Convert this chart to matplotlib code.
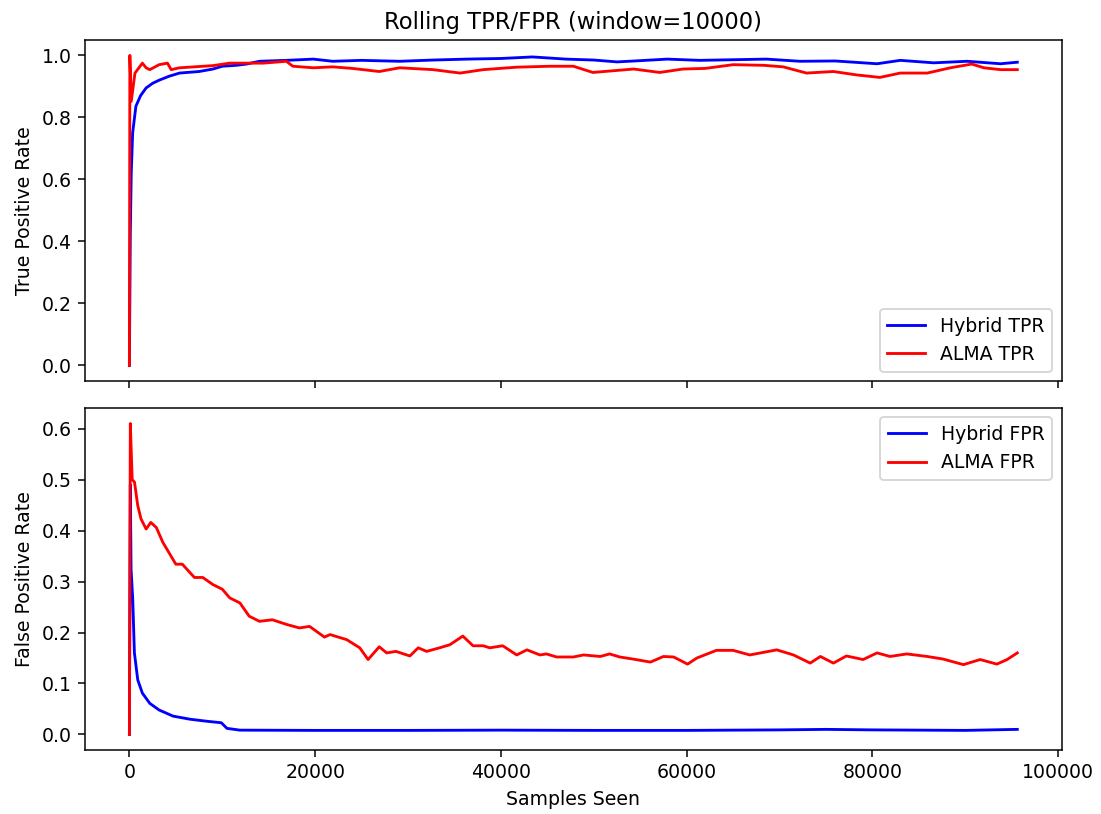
import matplotlib
matplotlib.use("Agg")
import matplotlib.pyplot as plt

# samples seen / rolling rates
hyb_tpr_x = [0, 100, 200, 350, 700, 1200, 1800, 2500, 3200, 4300, 5400, 7500, 9000, 10000,
             11500, 12600, 14000, 16900, 19800, 21900, 25000, 29100, 32700, 36300, 40000,
             43400, 47000, 50000, 52500, 55000, 57900, 61400, 65000, 68600, 72200, 76000,
             80500, 83000, 86600, 90200, 93800, 95600]
hyb_tpr_y = [0.0, 0.43, 0.62, 0.75, 0.836, 0.87, 0.895, 0.91, 0.92, 0.933, 0.943, 0.948, 0.956, 0.965,
             0.968, 0.972, 0.981, 0.984, 0.988, 0.981, 0.984, 0.981, 0.985, 0.988, 0.99,
             0.995, 0.988, 0.985, 0.979, 0.983, 0.988, 0.984, 0.986, 0.988, 0.981, 0.982,
             0.973, 0.984, 0.976, 0.981, 0.973, 0.978]

alma_tpr_x = [0, 50, 200, 600, 1400, 1800, 2200, 3200, 4100, 4500, 5400, 9000, 10800, 14400,
              16900, 17600, 19800, 21900, 24000, 26900, 29100, 32700, 35600, 38100, 41700,
              45300, 47800, 49900, 54300, 57100, 59600, 62000, 65000, 68300, 70400, 72900,
              75800, 78300, 80800, 83000, 85900, 88400, 90700, 92000, 93800, 95600]
alma_tpr_y = [0.0, 1.0, 0.852, 0.943, 0.975, 0.96, 0.954, 0.97, 0.975, 0.954, 0.96, 0.967, 0.975, 0.975,
              0.981, 0.965, 0.96, 0.963, 0.958, 0.948, 0.96, 0.954, 0.943, 0.954, 0.962,
              0.965, 0.965, 0.945, 0.956, 0.945, 0.956, 0.958, 0.97, 0.968, 0.963, 0.943,
              0.948, 0.937, 0.929, 0.943, 0.943, 0.96, 0.972, 0.96, 0.954, 0.954]

hyb_fpr_x = [0, 100, 180, 360, 540, 900, 1400, 2200, 3200, 4700, 6500, 8300, 9900, 10500,
             11900, 20000, 30000, 40000, 50000, 60000, 70000, 75000, 80000, 90000, 95600]
hyb_fpr_y = [0.0, 0.49, 0.324, 0.265, 0.16, 0.107, 0.081, 0.061, 0.048, 0.036, 0.030, 0.026, 0.023, 0.012,
             0.0085, 0.008, 0.008, 0.0085, 0.008, 0.008, 0.009, 0.01, 0.009, 0.008, 0.01]

alma_fpr_x = [0, 100, 300, 550, 900, 1250, 1800, 2300, 2900, 3600, 5000, 5700, 7000, 7900, 9000,
              10000, 10800, 11900, 12900, 14000, 15400, 16900, 18300, 19400, 21000, 21600,
              23400, 24800, 25700, 26900, 27700, 28700, 30200, 31100, 32000, 33400, 34500,
              35900, 37000, 38100, 38800, 40200, 41700, 42800, 44200, 44900, 46000, 47800,
              48900, 50700, 51700, 52800, 54200, 56100, 57500, 58600, 60100, 61100, 63200,
              65000, 66800, 69700, 71500, 73300, 74400, 75800, 77200, 79000, 80500, 81900,
              83700, 85900, 87600, 89800, 91600, 93400, 94500, 95600]
alma_fpr_y = [0.0, 0.61, 0.50, 0.495, 0.449, 0.423, 0.403, 0.416, 0.406, 0.377, 0.334, 0.334, 0.308, 0.308, 0.294,
              0.285, 0.268, 0.258, 0.232, 0.222, 0.225, 0.216, 0.209, 0.212, 0.191, 0.196,
              0.186, 0.170, 0.147, 0.172, 0.160, 0.163, 0.154, 0.170, 0.163, 0.170, 0.176,
              0.193, 0.174, 0.174, 0.170, 0.174, 0.156, 0.166, 0.156, 0.158, 0.152, 0.152,
              0.156, 0.153, 0.158, 0.152, 0.148, 0.142, 0.153, 0.152, 0.138, 0.150, 0.165,
              0.165, 0.156, 0.166, 0.156, 0.140, 0.153, 0.140, 0.154, 0.147, 0.160, 0.153,
              0.158, 0.153, 0.148, 0.137, 0.147, 0.138, 0.147, 0.160]

fig = plt.figure(figsize=(1101 / 136, 814 / 136), dpi=136)
ax1 = fig.add_axes([0.0772, 0.532, 0.8871, 0.419])
ax2 = fig.add_axes([0.0772, 0.0786, 0.8871, 0.4202], sharex=ax1)

ax1.plot(hyb_tpr_x, hyb_tpr_y, color="blue", label="Hybrid TPR")
ax1.plot(alma_tpr_x, alma_tpr_y, color="red", label="ALMA TPR")
ax1.set_ylabel("True Positive Rate")
ax1.set_title("Rolling TPR/FPR (window=10000)")
ax1.legend(loc="lower right")
ax1.tick_params(labelbottom=False)

ax2.plot(hyb_fpr_x, hyb_fpr_y, color="blue", label="Hybrid FPR")
ax2.plot(alma_fpr_x, alma_fpr_y, color="red", label="ALMA FPR")
ax2.set_ylabel("False Positive Rate")
ax2.set_xlabel("Samples Seen")
ax2.legend(loc="upper right")

fig.savefig("out.png", dpi=136)
